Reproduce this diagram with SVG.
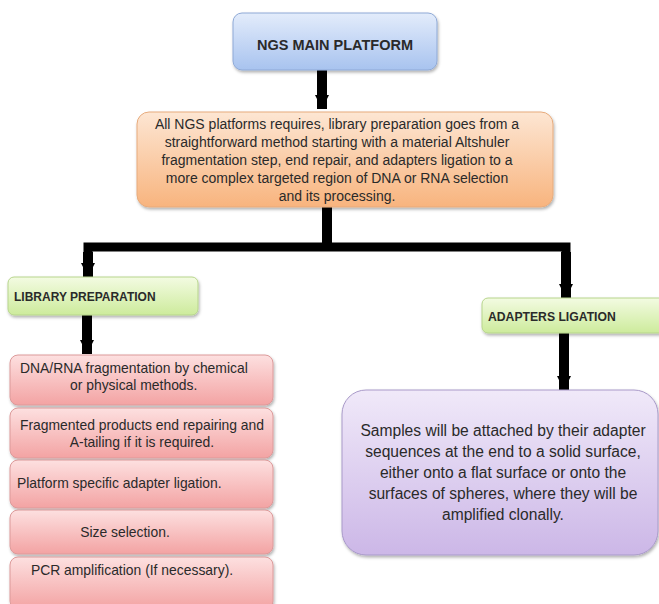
<svg xmlns="http://www.w3.org/2000/svg" width="659" height="604" viewBox="0 0 659 604">
<defs>
<linearGradient id="gBlue" x1="0" y1="0" x2="0" y2="1"><stop offset="0" stop-color="#e3ecfb"/><stop offset="1" stop-color="#a8c3ef"/></linearGradient>
<linearGradient id="gOrange" x1="0" y1="0" x2="0" y2="1"><stop offset="0" stop-color="#fde6d3"/><stop offset="1" stop-color="#f8b47e"/></linearGradient>
<linearGradient id="gGreen" x1="0" y1="0" x2="0" y2="1"><stop offset="0" stop-color="#f3fbe2"/><stop offset="1" stop-color="#cdeb9c"/></linearGradient>
<linearGradient id="gPink" x1="0" y1="0" x2="0" y2="1"><stop offset="0" stop-color="#fde0e0"/><stop offset="1" stop-color="#f3a3a3"/></linearGradient>
<linearGradient id="gPurple" x1="0" y1="0" x2="0" y2="1"><stop offset="0" stop-color="#f0e9f9"/><stop offset="1" stop-color="#ccb7e7"/></linearGradient>
<filter id="sh" x="-10%" y="-10%" width="120%" height="130%"><feDropShadow dx="1" dy="2" stdDeviation="1.5" flood-color="#000" flood-opacity="0.3"/></filter>
<marker id="ah" markerUnits="userSpaceOnUse" markerWidth="20" markerHeight="14" refX="20" refY="10" orient="auto" viewBox="0 0 20 20"><path d="M0,0 L20,10 L0,20 Z" fill="#000"/></marker>
</defs>
<style>
.t{font-family:"Liberation Sans",Arial,sans-serif;fill:#2a2a2a;}
.b{font-weight:bold;}
.c{text-anchor:middle;}
.shaft{stroke:#000;stroke-width:10;fill:none;}
.bar{stroke:#000;stroke-width:9;fill:none;stroke-linejoin:miter;}
.box{filter:url(#sh);}
</style>
<rect width="659" height="604" fill="#fff"/>
<g id="connectors">
<line class="shaft" x1="322" y1="70" x2="322" y2="109" marker-end="url(#ah)"/>
<line class="shaft" x1="327" y1="207" x2="327" y2="244"/>
<polyline class="bar" points="88,276 88,247 566,247 566,297"/>
<line class="shaft" x1="88" y1="252" x2="88" y2="277" marker-end="url(#ah)"/>
<line class="shaft" x1="566" y1="252" x2="566" y2="298" marker-end="url(#ah)"/>
<line class="shaft" x1="87" y1="315" x2="87" y2="354" marker-end="url(#ah)"/>
<line class="shaft" x1="564" y1="333" x2="564" y2="390" marker-end="url(#ah)"/>
</g>
<g id="ngs">
<rect class="box" x="233" y="13" width="204" height="57" rx="9" fill="url(#gBlue)" stroke="#8ea9d6"/>
<text class="t b c" x="335" y="50" font-size="14.5">NGS MAIN PLATFORM</text>
</g>
<g id="summary">
<rect class="box" x="137" y="112" width="416" height="95" rx="12" fill="url(#gOrange)" stroke="#e7ab7d"/>
<text class="t c" x="337" font-size="14"><tspan x="337" y="129">All NGS platforms requires, library preparation goes from a</tspan><tspan x="337" y="147">straightforward method starting with a material Altshuler</tspan><tspan x="337" y="165">fragmentation step, end repair, and adapters ligation to a</tspan><tspan x="337" y="183">more complex targeted region of DNA or RNA selection</tspan><tspan x="337" y="201">and its processing.</tspan></text>
</g>
<g id="library">
<rect class="box" x="8" y="277" width="190" height="38" rx="6" fill="url(#gGreen)" stroke="#b7d58c"/>
<text class="t b" x="14" y="301" font-size="12">LIBRARY PREPARATION</text>
</g>
<g id="adapters">
<rect class="box" x="482" y="298" width="185" height="35" rx="6" fill="url(#gGreen)" stroke="#b7d58c"/>
<text class="t b" x="488" y="321" font-size="12.2">ADAPTERS LIGATION</text>
</g>
<g id="step1">
<rect class="box" x="10" y="355" width="263" height="50" rx="8" fill="url(#gPink)" stroke="#dc9a9a"/>
<text class="t" font-size="13.9"><tspan x="20" y="373">DNA/RNA fragmentation by chemical</tspan><tspan x="70" y="390">or physical methods.</tspan></text>
</g>
<g id="step2">
<rect class="box" x="10" y="408" width="263" height="50" rx="8" fill="url(#gPink)" stroke="#dc9a9a"/>
<text class="t c" font-size="13.9"><tspan x="142" y="430">Fragmented products end repairing and</tspan><tspan x="142" y="447">A-tailing if it is required.</tspan></text>
</g>
<g id="step3">
<rect class="box" x="10" y="460" width="263" height="48" rx="8" fill="url(#gPink)" stroke="#dc9a9a"/>
<text class="t" x="17" y="488" font-size="13.9">Platform specific adapter ligation.</text>
</g>
<g id="step4">
<rect class="box" x="10" y="510" width="263" height="44" rx="8" fill="url(#gPink)" stroke="#dc9a9a"/>
<text class="t c" x="125" y="537" font-size="13.9">Size selection.</text>
</g>
<g id="step5">
<rect class="box" x="10" y="557" width="263" height="52" rx="8" fill="url(#gPink)" stroke="#dc9a9a"/>
<text class="t c" x="132" y="575" font-size="13.9">PCR amplification (If necessary).</text>
</g>
<g id="samples">
<rect class="box" x="342" y="390" width="316" height="165" rx="24" fill="url(#gPurple)" stroke="#a99ac9"/>
<text class="t c" font-size="15.6"><tspan x="503" y="436">Samples will be attached by their adapter</tspan><tspan x="503" y="457">sequences at the end to a solid surface,</tspan><tspan x="503" y="478">either onto a flat surface or onto the</tspan><tspan x="503" y="499">surfaces of spheres, where they will be</tspan><tspan x="503" y="520">amplified clonally.</tspan></text>
</g>
</svg>
